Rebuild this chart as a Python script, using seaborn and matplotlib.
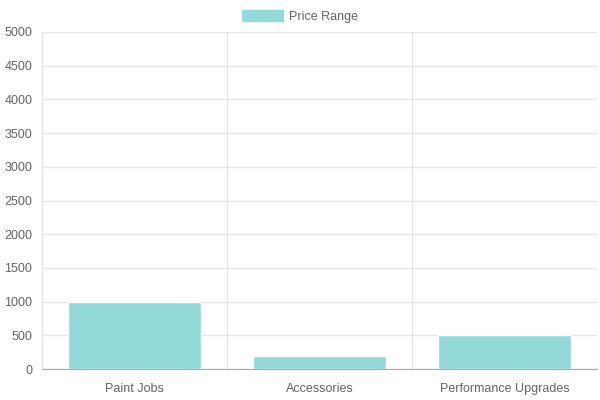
import numpy as np
import pandas as pd
import matplotlib.pyplot as plt
import seaborn as sns
from matplotlib.patches import Patch
from matplotlib.ticker import FixedLocator

sns.set_style("white")
plt.rcParams['font.family'] = ['Liberation Sans', 'DejaVu Sans']

categories = ['Paint Jobs', 'Accessories', 'Performance Upgrades']
price_range = [1000, 200, 500]
yticks = list(range(0, 5001, 500))

df = pd.DataFrame({'Category': categories, 'Price': price_range})

bar_color = '#93d9d9'
grid_color = '#e6e6e6'
text_color = '#666666'

fig = plt.figure(figsize=(6, 4), dpi=100)
ax = fig.add_axes([0.07, 0.0775, 0.925, 0.8425])

sns.barplot(data=df, x='Category', y='Price', color=bar_color, width=0.72,
            saturation=1, ax=ax, zorder=3)

ax.set_xlim(-0.5, 2.5)
ax.set_ylim(0, 5000)
ax.set_yticks(yticks)
ax.set_yticklabels([str(v) for v in yticks])
ax.set_xlabel('')
ax.set_ylabel('')

ax.grid(axis='y', color=grid_color, linewidth=1, zorder=0)
ax.xaxis.set_minor_locator(FixedLocator([-0.5, 0.5, 1.5, 2.5]))
ax.grid(axis='x', which='minor', color=grid_color, linewidth=1, zorder=0)
ax.tick_params(axis='x', which='major', length=0, pad=10, labelsize=9, labelcolor=text_color)
ax.tick_params(axis='x', which='minor', length=10, color=grid_color, width=1)
ax.tick_params(axis='y', length=5, color=grid_color, width=1, pad=2, labelsize=9, labelcolor=text_color)

for side in ['top', 'right']:
    ax.spines[side].set_visible(False)
ax.spines['left'].set_color(grid_color)
ax.spines['bottom'].set_color('#aaaaaa')
ax.spines['bottom'].set_zorder(4)

handles = [Patch(facecolor=bar_color, edgecolor=bar_color, label='Price Range')]
fig.legend(handles=handles, loc='upper center', bbox_to_anchor=(0.5, 1.0),
           frameon=False, fontsize=9, handlelength=3.3, handleheight=1.0,
           handletextpad=0.5, labelcolor=text_color, borderaxespad=0.4)

fig.savefig('out.png', dpi=100)
